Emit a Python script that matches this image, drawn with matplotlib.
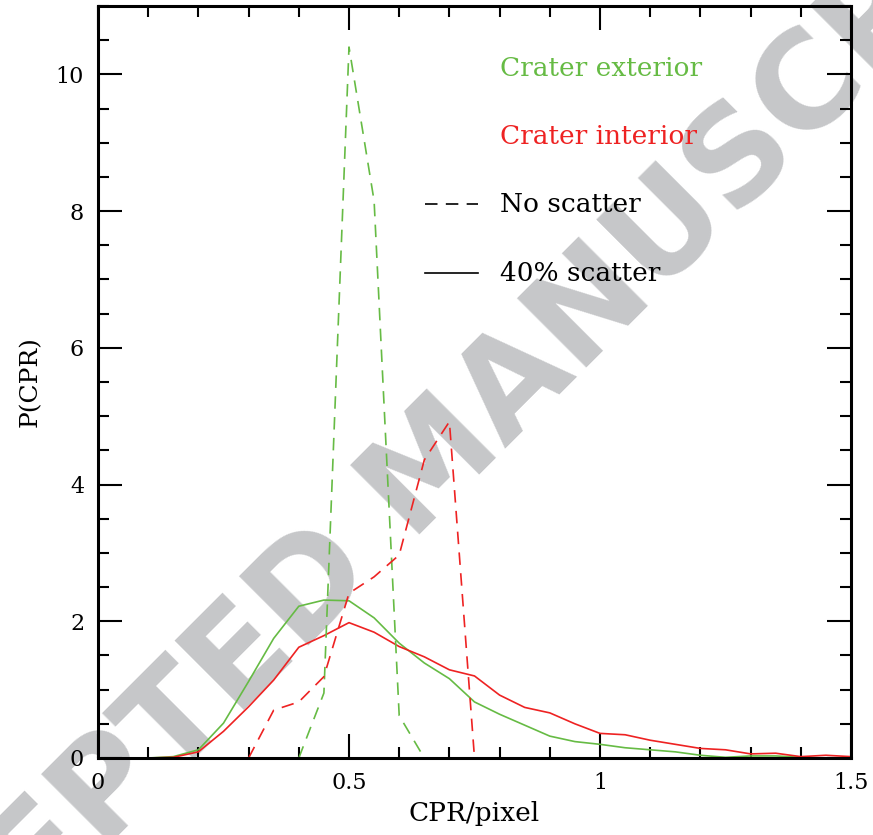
import matplotlib
matplotlib.use("Agg")
import matplotlib.pyplot as plt
from matplotlib.ticker import MultipleLocator

# ---- data ----
x_scatter = [0.0, 0.05, 0.1, 0.15, 0.2, 0.25, 0.3, 0.35, 0.4, 0.45, 0.5, 0.55, 0.6,
             0.65, 0.7, 0.75, 0.8, 0.85, 0.9, 0.95, 1.0, 1.05, 1.1, 1.15, 1.2, 1.25,
             1.3, 1.35, 1.4, 1.45, 1.5]
ext_scatter = [0.0, 0.0, 0.0, 0.02, 0.12, 0.51, 1.12, 1.75, 2.22, 2.31, 2.30, 2.05, 1.68,
               1.39, 1.16, 0.82, 0.64, 0.48, 0.32, 0.24, 0.20, 0.15, 0.12, 0.09, 0.04, 0.01,
               0.03, 0.03, 0.01, 0.0, 0.0]
int_scatter = [0.0, 0.0, 0.0, 0.01, 0.09, 0.39, 0.75, 1.14, 1.62, 1.79, 1.98, 1.84, 1.63,
               1.48, 1.29, 1.20, 0.92, 0.74, 0.66, 0.50, 0.36, 0.34, 0.26, 0.20, 0.14, 0.12,
               0.06, 0.07, 0.02, 0.04, 0.02]

x_ext_noscat = [0.4, 0.45, 0.5, 0.55, 0.6, 0.65]
ext_noscat = [0.0, 0.95, 10.4, 8.15, 0.62, 0.0]

x_int_noscat = [0.3, 0.35, 0.4, 0.45, 0.5, 0.55, 0.6, 0.65, 0.7, 0.75]
int_noscat = [0.0, 0.70, 0.82, 1.19, 2.41, 2.65, 2.97, 4.36, 4.92, 0.0]

x_ticks = [0, 0.5, 1, 1.5]
x_ticklabels = ["0", "0.5", "1", "1.5"]
y_ticks = [0, 2, 4, 6, 8, 10]

GREEN = "#66bb44"
RED = "#ee2222"
FONT = "DejaVu Serif"
DASH = (0, (7.5, 5))

fig = plt.figure(figsize=(8.73, 8.35), dpi=100)
ax = fig.add_axes([98/873, 1-758/835, (851-98)/873, (758-6)/835])
ax.patch.set_alpha(0)

# watermark
fig.text(469/873, 1-485/835, "ACCEPTED MANUSCRIPT", rotation=45, color="#c6c7c9",
         fontsize=96, fontweight="bold", family="DejaVu Sans",
         ha="center", va="baseline", rotation_mode="anchor", zorder=-5)

ax.plot(x_scatter, ext_scatter, color=GREEN, lw=1.2)
ax.plot(x_scatter, int_scatter, color=RED, lw=1.2)
ax.plot(x_ext_noscat, ext_noscat, color=GREEN, lw=1.2, ls=DASH)
ax.plot(x_int_noscat, int_noscat, color=RED, lw=1.2, ls=DASH)

ax.set_xlim(0, 1.5)
ax.set_ylim(0, 11)
ax.set_xticks(x_ticks)
ax.set_xticklabels(x_ticklabels)
ax.set_yticks(y_ticks)
ax.xaxis.set_minor_locator(MultipleLocator(0.1))
ax.yaxis.set_minor_locator(MultipleLocator(0.5))
ax.tick_params(which="both", direction="in", top=True, right=True, width=1.5,
               labelsize=16, pad=10)
ax.tick_params(which="major", length=17)
ax.tick_params(which="minor", length=8)
for lab in ax.get_xticklabels() + ax.get_yticklabels():
    lab.set_family(FONT)
for s in ax.spines.values():
    s.set_linewidth(2.2)

ax.set_xlabel("CPR/pixel", family=FONT, fontsize=19, labelpad=5)
ax.set_ylabel("P(CPR)", family=FONT, fontsize=18, labelpad=10)

# legend-like annotations
ax.text(0.8, 9.98, "Crater exterior", color=GREEN, family=FONT, fontsize=19, va="baseline")
ax.text(0.8, 8.98, "Crater interior", color=RED, family=FONT, fontsize=19, va="baseline")
ax.plot([0.651, 0.757], [8.1, 8.1], color="black", lw=1.2, ls=DASH)
ax.text(0.8, 7.99, "No scatter", color="black", family=FONT, fontsize=19, va="baseline")
ax.plot([0.651, 0.757], [7.1, 7.1], color="black", lw=1.2)
ax.text(0.8, 6.98, "40% scatter", color="black", family=FONT, fontsize=19, va="baseline")

fig.savefig("out.png", dpi=100)
